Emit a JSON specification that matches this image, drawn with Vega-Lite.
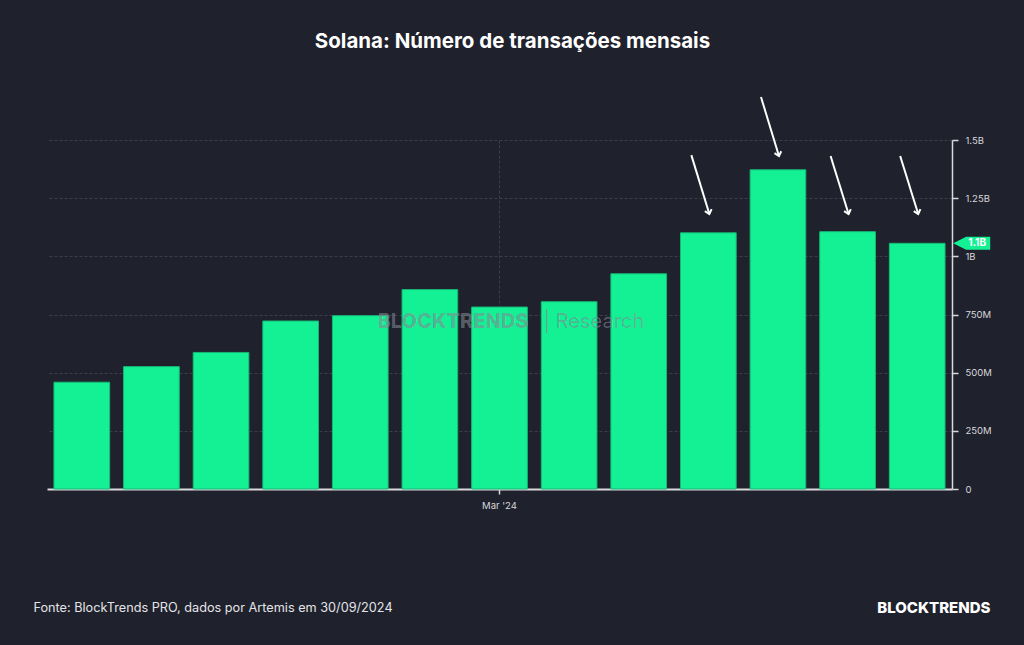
{
  "$schema": "https://vega.github.io/schema/vega-lite/v6.json",
  "width": 905,
  "height": 349,
  "autosize": {"type": "none"},
  "padding": {"left": 47, "top": 140, "right": 72, "bottom": 156},
  "background": "#1f212c",
  "config": {
    "view": {"stroke": null},
    "font": "Inter",
    "axis": {"labelFont": "Inter", "titleFont": "Inter"}
  },
  "title": {
    "text": "Solana: Número de transações mensais",
    "font": "Inter",
    "fontSize": 20.5,
    "fontWeight": "bold",
    "color": "#ffffff",
    "anchor": "middle",
    "frame": "group",
    "baseline": "alphabetic",
    "dx": 13,
    "offset": 27
  },
  "data": {
    "values": [
      {"month": "2023-09", "tx": 459000000, "arrow_from": null, "arrow_to": null},
      {"month": "2023-10", "tx": 526000000, "arrow_from": null, "arrow_to": null},
      {"month": "2023-11", "tx": 587000000, "arrow_from": null, "arrow_to": null},
      {"month": "2023-12", "tx": 722000000, "arrow_from": null, "arrow_to": null},
      {"month": "2024-01", "tx": 745000000, "arrow_from": null, "arrow_to": null},
      {"month": "2024-02", "tx": 857000000, "arrow_from": null, "arrow_to": null},
      {"month": "2024-03", "tx": 782000000, "arrow_from": null, "arrow_to": null},
      {"month": "2024-04", "tx": 805000000, "arrow_from": null, "arrow_to": null},
      {"month": "2024-05", "tx": 925000000, "arrow_from": null, "arrow_to": null},
      {"month": "2024-06", "tx": 1101000000, "arrow_from": 1435000000, "arrow_to": 1182000000},
      {"month": "2024-07", "tx": 1372000000, "arrow_from": 1685000000, "arrow_to": 1431000000},
      {"month": "2024-08", "tx": 1106000000, "arrow_from": 1431000000, "arrow_to": 1182000000},
      {"month": "2024-09", "tx": 1056000000, "arrow_from": 1431000000, "arrow_to": 1182000000}
    ]
  },
  "encoding": {
    "x": {
      "field": "month",
      "type": "ordinal",
      "scale": {"paddingInner": 0.2, "paddingOuter": 0.1},
      "axis": {
        "values": ["2024-03"],
        "labelExpr": "timeFormat(datetime(toNumber(slice(datum.value,0,4)), toNumber(slice(datum.value,5,7))-1, 1), \"%b '%y\")",
        "labelAngle": 0,
        "labelColor": "#d8d8dc",
        "labelFontSize": 9.5,
        "labelPadding": 6,
        "domainColor": "#d9d9dc",
        "domainWidth": 2,
        "tickColor": "#d9d9dc",
        "tickSize": 5,
        "tickWidth": 1.5,
        "grid": true,
        "gridColor": "#3c3f4b",
        "gridDash": [3, 2],
        "gridWidth": 1,
        "title": "Fonte: BlockTrends PRO, dados por Artemis em 30/09/2024",
        "titleColor": "#e4e4e8",
        "titleFontSize": 12.7,
        "titleFontWeight": "normal",
        "titleAnchor": "start",
        "titleAlign": "left",
        "titleBaseline": "middle",
        "titleX": -14,
        "titleY": 118
      }
    }
  },
  "layer": [
    {
      "mark": {"type": "bar", "fill": "#14f195", "stroke": "#16b877", "strokeWidth": 1},
      "encoding": {
        "y": {
          "field": "tx",
          "type": "quantitative",
          "scale": {"domain": [0, 1500000000], "nice": false},
          "axis": {
            "orient": "right",
            "values": [0, 125000000, 250000000, 375000000, 500000000, 625000000, 750000000, 875000000, 1000000000, 1125000000, 1250000000, 1375000000, 1500000000],
            "labelExpr": "datum.value % 250000000 !== 0 ? '' : (datum.value >= 1e9 ? format(datum.value/1e9, '~g') + 'B' : (datum.value == 0 ? '0' : format(datum.value/1e6, '~g') + 'M'))",
            "labelColor": "#d8d8dc",
            "labelFontSize": 9.5,
            "labelPadding": 7,
            "domainColor": "#d9d9dc",
            "domainWidth": 1.5,
            "tickColor": "#d9d9dc",
            "tickWidth": 1.5,
            "tickSize": {"condition": {"test": "datum.value % 250000000 === 0", "value": 6}, "value": 3},
            "grid": true,
            "gridColor": "#3c3f4b",
            "gridDash": [3, 2],
            "gridWidth": 1,
            "gridOpacity": {"condition": {"test": "datum.value % 250000000 === 0 && datum.value > 0", "value": 1}, "value": 0},
            "title": "BLOCKTRENDS",
            "titleColor": "#ffffff",
            "titleFontSize": 15,
            "titleFontWeight": 800,
            "titleAngle": 0,
            "titleAlign": "right",
            "titleBaseline": "middle",
            "titleX": 38,
            "titleY": 467
          }
        }
      }
    },
    {
      "mark": {
        "type": "text",
        "text": "BLOCKTRENDS",
        "font": "Inter",
        "fontSize": 20,
        "fontWeight": 800,
        "fill": "#8a9099",
        "fillOpacity": 0.07,
        "align": "right",
        "xOffset": 29
      },
      "encoding": {
        "x": {"datum": "2024-03"},
        "y": {"datum": 718000000, "type": "quantitative"}
      }
    },
    {
      "mark": {
        "type": "text",
        "text": "|  Research",
        "font": "Inter",
        "fontSize": 20,
        "fontWeight": "normal",
        "fill": "#8a9099",
        "fillOpacity": 0.07,
        "align": "left",
        "xOffset": 44
      },
      "encoding": {
        "x": {"datum": "2024-03"},
        "y": {"datum": 718000000, "type": "quantitative"}
      }
    },
    {
      "transform": [{"filter": "datum.arrow_from != null"}],
      "mark": {"type": "rule", "color": "#ffffff", "strokeWidth": 2, "xOffset": -17, "x2Offset": 1},
      "encoding": {
        "x2": {"field": "month"},
        "y": {"field": "arrow_from", "type": "quantitative"},
        "y2": {"field": "arrow_to"}
      }
    },
    {
      "transform": [{"filter": "datum.arrow_from != null"}],
      "mark": {
        "type": "point",
        "shape": "M-0.7,-0.8L0,0L0.7,-0.8",
        "size": 100,
        "filled": false,
        "stroke": "#ffffff",
        "strokeWidth": 2,
        "opacity": 1,
        "angle": 344,
        "xOffset": 1
      },
      "encoding": {
        "y": {"field": "arrow_to", "type": "quantitative"}
      }
    },
    {
      "transform": [{"filter": "datum.month === '2024-09'"}],
      "mark": {
        "type": "point",
        "shape": "M-1,0L-0.3,-0.35L1,-0.35L1,0.35L-0.3,0.35Z",
        "size": 1369,
        "filled": true,
        "fill": "#14f195",
        "opacity": 1,
        "strokeWidth": 0,
        "xOffset": 54.5
      },
      "encoding": {
        "y": {"field": "tx", "type": "quantitative"}
      }
    },
    {
      "transform": [
        {"filter": "datum.month === '2024-09'"},
        {"calculate": "replace(format(datum.tx, '.2s'), 'G', 'B')", "as": "tag"}
      ],
      "mark": {
        "type": "text",
        "color": "#ffffff",
        "fontSize": 10,
        "fontWeight": "bold",
        "font": "Inter",
        "xOffset": 60
      },
      "encoding": {
        "y": {"field": "tx", "type": "quantitative"},
        "text": {"field": "tag"}
      }
    }
  ]
}
